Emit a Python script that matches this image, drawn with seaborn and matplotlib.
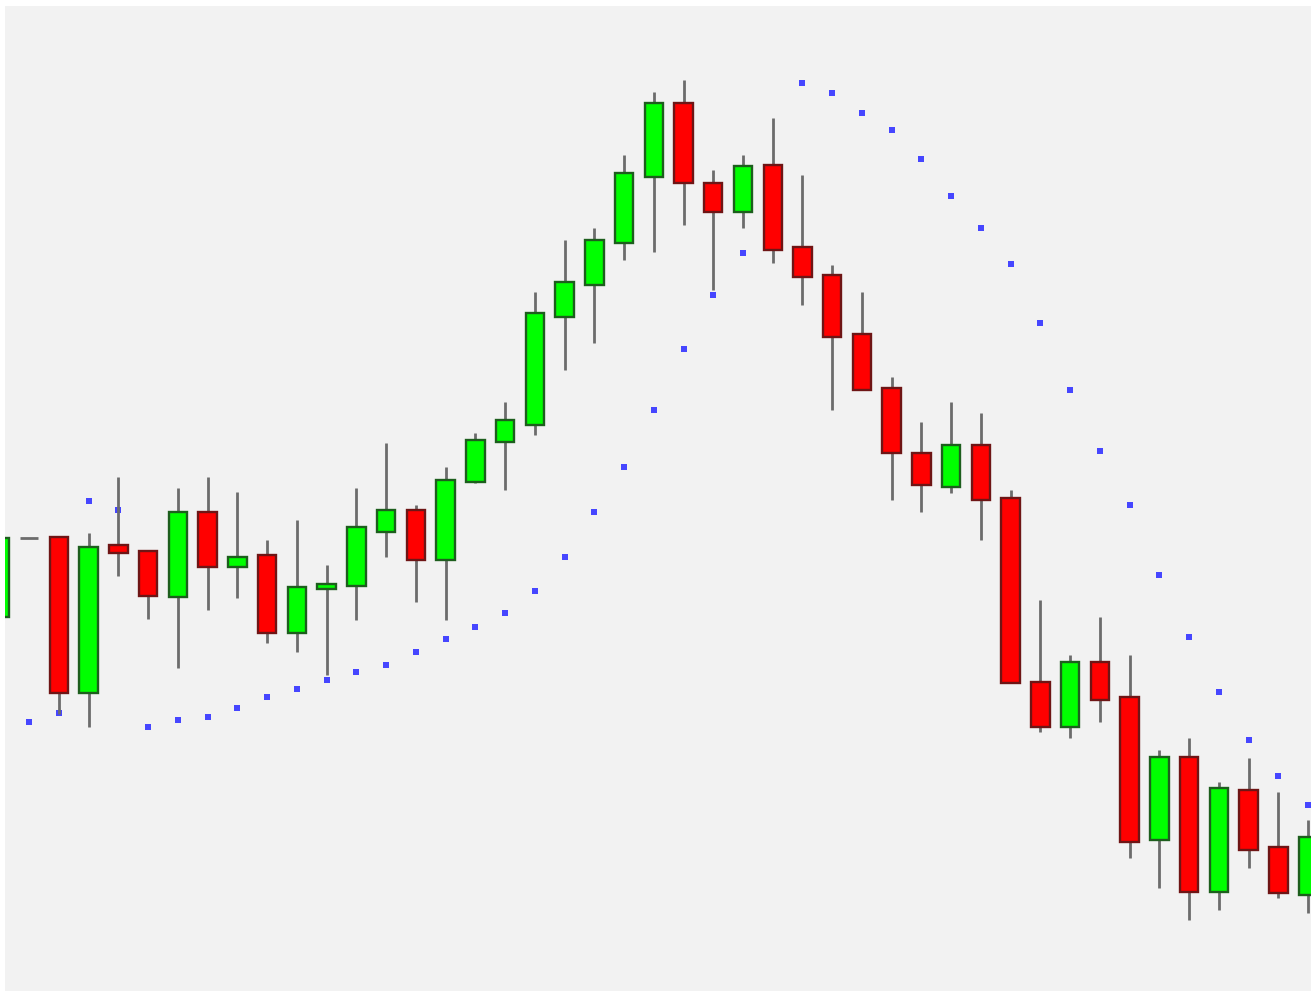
import numpy as np
import pandas as pd
import seaborn as sns
import matplotlib.pyplot as plt

# OHLC values (arbitrary price units)
opens = [374, 453, 454, 298, 446, 440, 394, 479, 424, 436, 358, 402, 405, 459, 481,
         431, 509, 549, 566, 674, 706, 748, 814, 888, 808, 779, 826, 744, 716, 657,
         603, 538, 504, 546, 493, 309, 264, 329, 294, 151, 234, 99, 201, 144, 96]
highs = [453, 453, 454, 458, 514, 440, 503, 514, 499, 451, 471, 426, 503, 548, 486,
         524, 558, 589, 699, 751, 763, 836, 899, 911, 821, 836, 873, 816, 726, 699,
         614, 569, 589, 578, 501, 391, 336, 374, 336, 241, 253, 209, 233, 199, 171]
lows = [374, 453, 277, 264, 415, 372, 323, 381, 393, 348, 339, 316, 371, 434, 389,
        371, 508, 501, 556, 621, 648, 731, 739, 766, 701, 763, 728, 686, 581, 601,
        491, 479, 498, 451, 308, 259, 253, 269, 133, 103, 71, 81, 123, 93, 78]
closes = [453, 453, 298, 444, 438, 395, 479, 424, 434, 358, 404, 407, 464, 481, 431,
          511, 551, 571, 678, 709, 751, 818, 888, 808, 779, 825, 741, 714, 654, 601,
          538, 506, 546, 491, 308, 264, 329, 291, 149, 234, 99, 203, 141, 98, 154]
# parabolic SAR dots (nan = not visible)
sar = [np.nan, 269, 278, 490, 481, 264, 271, 274, 283, 294, 302, 311, 319, 326, 339,
       352, 364, 378, 400, 434, 479, 524, 581, 642, 696, 738, np.nan, 908, 898, 878,
       861, 832, 795, 763, 727, 668, 601, 540, 486, 416, 354, 299, 251, 215, 186]

df = pd.DataFrame({"t": np.arange(len(opens)), "open": opens, "high": highs,
                   "low": lows, "close": closes, "sar": sar})

sns.set_style("white")
fig = plt.figure(figsize=(13.11, 9.91), dpi=100)
ax = fig.add_axes([5 / 1311, 0, 1306 / 1311, 985 / 991])
ax.set_facecolor("#f2f2f2")

# SAR dots (behind the candles)
sns.scatterplot(data=df, x="t", y="sar", marker="s", s=14, color="#4646ff",
                linewidth=0, ax=ax, zorder=1)

# wicks
ax.vlines(df["t"], df["low"], df["high"], color="#6c6c6c", linewidth=2.0, zorder=2)

# bodies
up = df["close"] > df["open"]
down = df["close"] < df["open"]
flat = df["close"] == df["open"]
w = 0.62
ax.bar(df.loc[up, "t"], df.loc[up, "close"] - df.loc[up, "open"],
       bottom=df.loc[up, "open"], width=w, color="#00ff00",
       edgecolor="#1d5e1d", linewidth=1.7, zorder=3)
ax.bar(df.loc[down, "t"], df.loc[down, "open"] - df.loc[down, "close"],
       bottom=df.loc[down, "close"], width=w, color="#ff0000",
       edgecolor="#6e1515", linewidth=1.7, zorder=3)
ax.hlines(df.loc[flat, "open"], df.loc[flat, "t"] - w / 2, df.loc[flat, "t"] + w / 2,
          color="#6c6c6c", linewidth=2.0, zorder=3)

ax.set_xlim(0.185, 44.10)
ax.set_ylim(0, 985)
ax.set_xticks([])
ax.set_yticks([])
ax.set_xlabel("")
ax.set_ylabel("")
for s in ax.spines.values():
    s.set_visible(False)

fig.savefig("out.png", dpi=100, facecolor="white")
